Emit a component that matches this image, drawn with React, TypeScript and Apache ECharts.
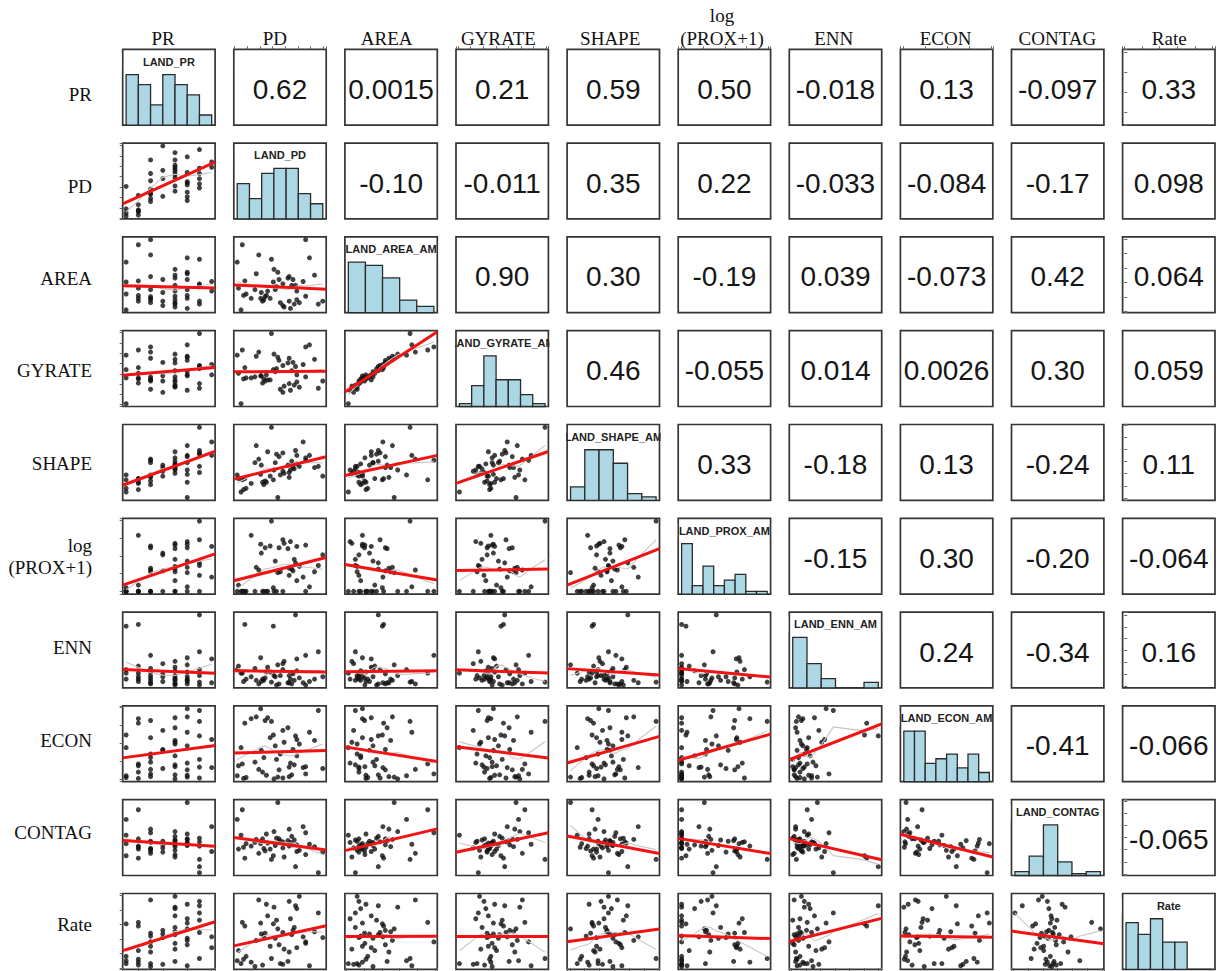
import React, { useEffect, useRef } from "react";
import * as echarts from "echarts";

// ---------------- data ----------------
const varLabels = ["PR", "PD", "AREA", "GYRATE", "SHAPE", "log (PROX+1)", "ENN", "ECON", "CONTAG", "Rate"];
const histTitles = ["LAND_PR", "LAND_PD", "LAND_AREA_AM", "LAND_GYRATE_AM", "LAND_SHAPE_AM", "LAND_PROX_AM", "LAND_ENN_AM", "LAND_ECON_AM", "LAND_CONTAG", "Rate"];

const PR = [1, 1, 1, 1, 2, 2, 2, 2, 2, 2, 3, 3, 3, 3, 3, 3, 3, 3, 4, 4, 4, 4, 5, 5, 5, 5, 5, 5, 5, 5, 5, 5, 6, 6, 6, 6, 6, 6, 6, 6, 7, 7, 7, 7, 7, 7, 8, 8];
const PD = [0.2, 0.5, 0.9, 3.05, 0.6, 0.8, 1.3, 2.2, 0.3, 0.7, 5.6, 1.9, 2.8, 2.4, 2.3, 3.6, 1.6, 4.3, 6.95, 3.8, 2.1, 4.6, 6.3, 5.6, 4.9, 4.7, 4.5, 3.1, 3.9, 2.6, 4.2, 5.1, 5.9, 3.4, 3.5, 3.2, 2.5, 2.05, 1.7, 4.4, 2.9, 4.8, 4.3, 3.8, 6.6, 3.3, 4.9, 5.4];
const AREA = [3.4, 0.1, 1.2, 2.03, 4.6, 2.1, 0.9, 0.7, 1.6, 1.1, 4.95, 3.9, 0.9, 1.02, 0.8, 0.6, 1.5, 2.4, 0.7, 0.4, 1.3, 2.2, 2.5, 1.04, 0.8, 0.5, 1.8, 2.9, 0.3, 1.4, 2.3, 0.6, 3.7, 2.7, 2.2, 1.5, 1.1, 0.9, 2.6, 0.2, 3.6, 1.8, 0.7, 1.9, 0.5, 1.7, 1.4, 2.06];
const GYRATE = [4.8, 0.1, 2.6, 3.4, 5.3, 3.6, 2.6, 2.1, 3.05, 2.5, 5.6, 5.1, 2.4, 2.3, 2.5, 1.5, 2.7, 4.5, 2.3, 1.2, 2.8, 4.1, 4.4, 2.7, 2.2, 1.9, 3.3, 4.9, 1.8, 2.4, 4.05, 1.7, 5.8, 4.6, 4.3, 3.2, 2.9, 2.8, 4.7, 1.4, 6.9, 3.7, 2.05, 3.8, 1.6, 3.5, 2.9, 3.9];
const SHAPE = [1.9, 0.5, 0.8, 1.5, 1.5, 1.6, 1.2, 1.3, 1.6, 0.7, 3.1, 3.2, 1.8, 1.4, 1.1, 1.9, 2.9, 1.7, 1.8, 2.2, 2.7, 2.5, 2.5, 3.3, 2.8, 2.4, 3.02, 2.3, 2.03, 3.8, 2.7, 2.6, 3.5, 0.05, 3.4, 2.9, 1.3, 1.95, 4.3, 2.3, 5.8, 3.9, 2.1, 3.7, 2.6, 3.6, 3.5, 4.6];
const PROX = [0, 0, 0, 0.4, 0, 0, 6.3, 0, 0.7, 0, 0, 2.4, 5.1, 4.9, 0, 2.2, 0, 2.6, 4.1, 0, 4.3, 2.3, 2.2, 5.2, 1.2, 3.6, 2.5, 0, 5.4, 0, 4.8, 2.8, 0.5, 2.1, 4.9, 3.4, 0, 5.3, 2.7, 5.6, 7.9, 3.2, 1.8, 5.8, 2.9, 0, 5.05, 1.6];
const ENN = [1.4, 1.1, 0.6, 5.05, 1.1, 5.2, 0.8, 0.6, 1.7, 0.4, 2.6, 0.2, 1.2, 0.7, 0.5, 0.9, 1.5, 0.3, 0.8, 1.9, 0.4, 1.05, 0.6, 0.1, 1.3, 0.5, 0.2, 0.9, 2.1, 1.6, 0.3, 0.7, 0.4, 1.8, 0.2, 0.8, 1.2, 2.4, 0.5, 0.6, 0.35, 6.0, 0.9, 1.4, 2.9, 0.1, 2.3, 0.3];
const ECON = [0.4, 3.5, 0.2, 4.9, 1.7, 6.2, 6.7, 0.8, 1.5, 0.1, 0.6, 1.1, 4.6, 6.5, 2.4, 2.8, 1.9, 0.3, 1.2, 5.4, 3.2, 3.3, 4.3, 1.4, 2.6, 1.6, 0.5, 0.05, 4.1, 6.8, 5.7, 3.9, 5.2, 0.25, 1.05, 3.7, 0.45, 7.8, 6.9, 1.8, 6.4, 4.8, 1.35, 0.15, 7.6, 2.2, 4.4, 1.3];
const CONTAG = [4.5, 3.2, 2.5, 1.5, 5.3, 1.3, 2.3, 2.9, 2.05, 2.2, 3.4, 1.7, 2.05, 1.9, 2.1, 2.7, 2.6, 3.7, 1.8, 2.15, 2.7, 2.4, 2.25, 1.6, 2.4, 2.8, 3.1, 3.5, 1.4, 2.55, 2.75, 1.95, 2.45, 5.9, 2.9, 2.35, 3.3, 2.5, 2.85, 2.6, 1.2, 0.6, 2.3, 2.65, 0.1, 2.95, 1.85, 3.9];
const RATE = [0.5, 0.3, 0.8, 3.05, 3.15, 2.9, 0.4, 0.2, 1.2, 0.6, 1.8, 4.7, 1.5, 2.4, 2.2, 0.3, 0.1, 1.1, 2.1, 0.25, 2.35, 2.6, 2.5, 1.7, 4.1, 2.8, 2.3, 4.2, 1.3, 3.6, 0.45, 4.95, 0.15, 2.7, 1.6, 2.05, 4.4, 3.1, 1.9, 3.4, 0.65, 4.3, 4.6, 2.45, 3.8, 3.3, 1.4, 2.15];

// histogram breaks: start value and number of unit-width bins
const histStart = [1, 0, 0, 0, 0, 0, 0, 0, 0, 0];
const histBins = [7, 7, 5, 7, 6, 8, 6, 8, 6, 7];

// correlation labels (upper triangle, row by row)
const corrPR = ["0.62", "0.0015", "0.21", "0.59", "0.50", "-0.018", "0.13", "-0.097", "0.33"];
const corrPD = ["-0.10", "-0.011", "0.35", "0.22", "-0.033", "-0.084", "-0.17", "0.098"];
const corrAREA = ["0.90", "0.30", "-0.19", "0.039", "-0.073", "0.42", "0.064"];
const corrGYRATE = ["0.46", "-0.055", "0.014", "0.0026", "0.30", "0.059"];
const corrSHAPE = ["0.33", "-0.18", "0.13", "-0.24", "0.11"];
const corrPROX = ["-0.15", "0.30", "-0.20", "-0.064"];
const corrENN = ["0.24", "-0.34", "0.16"];
const corrECON = ["-0.41", "-0.066"];
const corrCONTAG = ["-0.065"];

// ---------------- layout ----------------
const W = 1217;
const H = 971;
const X0 = 122.7;
const Y0 = 49.3;
const DX = 111.1;
const DY = 93.8;
const PW = 92.4;
const PH = 75.8;

const SERIF = "'Liberation Serif', 'Times New Roman', serif";
const SANS = "'Liberation Sans', Arial, sans-serif";

function padExtent(lo: number, hi: number): [number, number] {
  const r = hi - lo || 1;
  return [lo - 0.04 * r, hi + 0.04 * r];
}
function dataExtent(v: number[]): [number, number] {
  return padExtent(Math.min(...v), Math.max(...v));
}
function histCounts(v: number[], start: number, k: number): number[] {
  const c = new Array(k).fill(0);
  v.forEach((x) => {
    let b = Math.ceil(x - start) - 1;
    if (b < 0) b = 0;
    if (b > k - 1) b = k - 1;
    c[b]++;
  });
  return c;
}
function linreg(x: number[], y: number[]) {
  const n = x.length;
  const mx = x.reduce((a, b) => a + b, 0) / n;
  const my = y.reduce((a, b) => a + b, 0) / n;
  let sxy = 0, sxx = 0;
  for (let i = 0; i < n; i++) {
    sxy += (x[i] - mx) * (y[i] - my);
    sxx += (x[i] - mx) * (x[i] - mx);
  }
  const b = sxx > 0 ? sxy / sxx : 0;
  return { a: my - b * mx, b };
}
function lowess(x: number[], y: number[], f = 2 / 3): number[][] {
  const idx = x.map((_, i) => i).sort((a, b) => x[a] - x[b]);
  const xs = idx.map((i) => x[i]);
  const ys = idx.map((i) => y[i]);
  const n = xs.length;
  const q = Math.max(2, Math.floor(f * n));
  const out: number[][] = [];
  for (let i = 0; i < n; i++) {
    const d = xs.map((v) => Math.abs(v - xs[i]));
    const h = [...d].sort((a, b) => a - b)[q - 1] || 1e-9;
    let sw = 0, sx = 0, sy = 0, sxx = 0, sxy = 0;
    for (let j = 0; j < n; j++) {
      const u = d[j] / (h * 1.000001);
      if (u >= 1) continue;
      const w = Math.pow(1 - u * u * u, 3);
      sw += w; sx += w * xs[j]; sy += w * ys[j]; sxx += w * xs[j] * xs[j]; sxy += w * xs[j] * ys[j];
    }
    const mx = sx / sw, my = sy / sw;
    const vx = sxx / sw - mx * mx;
    const b = vx > 1e-12 ? (sxy / sw - mx * my) / vx : 0;
    out.push([xs[i], my + b * (xs[i] - mx)]);
  }
  return out;
}

function buildOption() {
  const vars = [PR, PD, AREA, GYRATE, SHAPE, PROX, ENN, ECON, CONTAG, RATE];
  const corr = [corrPR, corrPD, corrAREA, corrGYRATE, corrSHAPE, corrPROX, corrENN, corrECON, corrCONTAG];
  const nv = vars.length;
  const grid: any[] = [];
  const xAxis: any[] = [];
  const yAxis: any[] = [];
  const series: any[] = [];
  const elements: any[] = [];

  for (let i = 0; i < nv; i++) {
    for (let j = 0; j < nv; j++) {
      const k = i * nv + j;
      const left = X0 + j * DX;
      const top = Y0 + i * DY;
      grid.push({
        left, top, width: PW, height: PH,
        show: true, borderColor: "#353535", borderWidth: 1.7, backgroundColor: "rgba(0,0,0,0)",
      });
      let xr: [number, number];
      let yr: [number, number];
      let counts: number[] = [];
      if (i === j) {
        counts = histCounts(vars[i], histStart[i], histBins[i]);
        xr = padExtent(histStart[i], histStart[i] + histBins[i]);
        yr = [0, Math.max(...counts) * 1.5];
      } else {
        xr = dataExtent(vars[j]);
        yr = dataExtent(vars[i]);
      }
      let xPos: string | null = null;
      if (i === 0 && j % 2 === 1) xPos = "top";
      if (i === nv - 1 && j % 2 === 0) xPos = "bottom";
      let yPos: string | null = null;
      if (j === 0 && i % 2 === 1) yPos = "left";
      if (j === nv - 1 && i % 2 === 0) yPos = "right";
      const tick = { show: true, length: 3, lineStyle: { color: "#666", width: 1 } };
      xAxis.push({
        gridIndex: k, type: "value", min: xr[0], max: xr[1], show: !!xPos, position: xPos || "bottom",
        axisLine: { show: false }, axisTick: tick, axisLabel: { show: false }, splitLine: { show: false },
      });
      yAxis.push({
        gridIndex: k, type: "value", min: yr[0], max: yr[1], show: !!yPos, position: yPos || "left",
        axisLine: { show: false }, axisTick: tick, axisLabel: { show: false }, splitLine: { show: false },
      });

      if (i === j) {
        const start = histStart[i];
        series.push({
          type: "custom", coordinateSystem: "cartesian2d", xAxisIndex: k, yAxisIndex: k,
          data: counts.map((c, b) => [start + b, start + b + 1, c]),
          encode: { x: [0, 1], y: 2 },
          renderItem: (_p: any, api: any) => {
            const s = api.coord([api.value(0), 0]);
            const e = api.coord([api.value(1), api.value(2)]);
            return {
              type: "rect",
              shape: { x: s[0], y: e[1], width: e[0] - s[0], height: s[1] - e[1] },
              style: { fill: "#acd8e6", stroke: "#2b2b2b", lineWidth: 1.3 },
            };
          },
          z: 2,
        });
        elements.push({
          type: "text", x: left + PW / 2, y: top + 12.5, scaleX: 1.1, z: 50,
          style: { text: histTitles[i], fontSize: 10, fontWeight: "bold", fontFamily: SANS, fill: "#222", align: "center", verticalAlign: "middle" },
        });
        elements.push({ type: "rect", z: 60, shape: { x: left - 17, y: top + 5, width: 16, height: 15 }, style: { fill: "#fff" } });
        elements.push({ type: "rect", z: 60, shape: { x: left + PW + 1.2, y: top + 5, width: 16, height: 15 }, style: { fill: "#fff" } });
      } else if (i > j) {
        const xs = vars[j];
        const ys = vars[i];
        series.push({
          type: "scatter", xAxisIndex: k, yAxisIndex: k, symbol: "circle", symbolSize: 5,
          itemStyle: { color: "#111" }, data: xs.map((v, n) => [v, ys[n]]), z: 2,
        });
        series.push({
          type: "line", xAxisIndex: k, yAxisIndex: k, symbol: "none", clip: true,
          lineStyle: { color: "#c8c8c8", width: 1.1 }, data: lowess(xs, ys), z: 3,
        });
        const { a, b } = linreg(xs, ys);
        series.push({
          type: "line", xAxisIndex: k, yAxisIndex: k, symbol: "none", clip: true,
          lineStyle: { color: "#f21212", width: 3 },
          data: [[xr[0], a + b * xr[0]], [xr[1], a + b * xr[1]]], z: 4,
        });
      } else {
        elements.push({
          type: "text", x: left + PW / 2, y: top + PH / 2 + 2, z: 50,
          style: { text: corr[i][j - i - 1], fontSize: 28, fontFamily: SANS, fill: "#161616", align: "center", verticalAlign: "middle" },
        });
      }
    }
  }

  // column labels
  for (let j = 0; j < nv; j++) {
    const cx = 163 + j * 111.8;
    if (j === 5) {
      elements.push({ type: "text", x: cx, y: 15, z: 50, style: { text: "log", fontSize: 19, fontFamily: SERIF, fill: "#111", align: "center", verticalAlign: "middle" } });
      elements.push({ type: "text", x: cx, y: 38, z: 50, style: { text: "(PROX+1)", fontSize: 19, fontFamily: SERIF, fill: "#111", align: "center", verticalAlign: "middle" } });
    } else {
      elements.push({ type: "text", x: cx, y: 38, z: 50, style: { text: varLabels[j], fontSize: 19, fontFamily: SERIF, fill: "#111", align: "center", verticalAlign: "middle" } });
    }
  }
  // row labels
  for (let i = 0; i < nv; i++) {
    const cy = 94 + i * 92.3;
    if (i === 5) {
      elements.push({ type: "text", x: 92, y: 545, z: 50, style: { text: "log", fontSize: 19, fontFamily: SERIF, fill: "#111", align: "right", verticalAlign: "middle" } });
      elements.push({ type: "text", x: 92, y: 567, z: 50, style: { text: "(PROX+1)", fontSize: 19, fontFamily: SERIF, fill: "#111", align: "right", verticalAlign: "middle" } });
    } else {
      elements.push({ type: "text", x: 92, y: cy, z: 50, style: { text: varLabels[i], fontSize: 19, fontFamily: SERIF, fill: "#111", align: "right", verticalAlign: "middle" } });
    }
  }

  return {
    animation: false,
    backgroundColor: "#ffffff",
    grid, xAxis, yAxis, series,
    graphic: { elements },
  };
}

export default function App() {
  const ref = useRef<HTMLDivElement>(null);
  useEffect(() => {
    document.body.style.margin = "0";
    if (!ref.current) return;
    const chart = echarts.init(ref.current, undefined, { renderer: "svg" });
    chart.setOption(buildOption() as any);
    return () => chart.dispose();
  }, []);
  return <div ref={ref} style={{ width: W, height: H, background: "#fff" }} />;
}
